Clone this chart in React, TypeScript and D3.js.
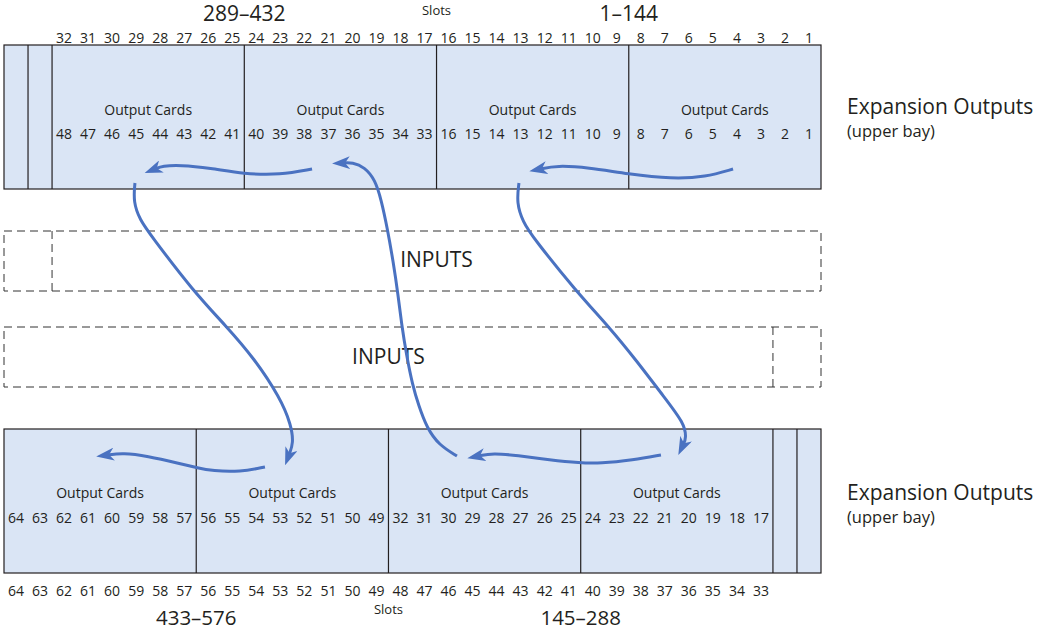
import React from 'react';
import * as d3 from 'd3';

// slot numbers printed above the upper bay and below the lower bay
const topSlots = [32, 31, 30, 29, 28, 27, 26, 25, 24, 23, 22, 21, 20, 19, 18, 17, 16, 15, 14, 13, 12, 11, 10, 9, 8, 7, 6, 5, 4, 3, 2, 1];
const bottomSlots = [64, 63, 62, 61, 60, 59, 58, 57, 56, 55, 54, 53, 52, 51, 50, 49, 48, 47, 46, 45, 44, 43, 42, 41, 40, 39, 38, 37, 36, 35, 34, 33];

// output card numbers, one list per card group
const topCards = [
  [48, 47, 46, 45, 44, 43, 42, 41],
  [40, 39, 38, 37, 36, 35, 34, 33],
  [16, 15, 14, 13, 12, 11, 10, 9],
  [8, 7, 6, 5, 4, 3, 2, 1],
];
const bottomCards = [
  [64, 63, 62, 61, 60, 59, 58, 57],
  [56, 55, 54, 53, 52, 51, 50, 49],
  [32, 31, 30, 29, 28, 27, 26, 25],
  [24, 23, 22, 21, 20, 19, 18, 17],
];

const topRanges = ['289–432', '1–144'];
const bottomRanges = ['433–576', '145–288'];

// arrow paths, [slot position, y]
const arrows: [number, number][][] = [
  [[30.34, 169], [29.2, 177], [27.8, 179], [25.97, 174], [24.3, 167.5], [23.0, 165.5], [22.31, 169]],
  [[12.82, 169], [11.49, 175], [9.99, 174], [8.57, 168], [7.32, 165], [6.6, 166], [6.28, 169]],
  [[18.85, 456], [18.1, 445], [17.6, 428], [17.25, 405], [17.0, 385], [16.75, 355], [16.55, 325], [16.4, 295], [16.2, 262], [15.95, 228], [15.7, 200], [15.45, 180], [15.0, 167], [14.5, 162.5], [14.11, 163]],
  [[5.45, 183], [5.38, 202], [5.66, 220], [6.1, 235], [7.87, 291], [9.28, 327], [10.4, 358], [11.5, 398], [11.95, 425], [12.05, 443], [11.86, 455]],
  [[21.43, 183], [21.33, 203], [21.6, 222], [22.0, 237], [23.8, 291], [25.22, 328], [26.3, 360], [27.5, 398], [28.3, 423], [28.4, 438], [28.26, 445]],
  [[27.34, 455], [26.18, 460], [24.8, 463.5], [23.97, 463], [22.72, 460], [21.35, 455.5], [20.35, 453], [19.73, 456]],
  [[10.86, 467], [9.82, 472], [8.7, 471], [7.99, 467.5], [7.32, 463.5], [5.95, 456], [4.95, 453], [4.29, 455]],
];

const W = 1039;
const H = 631;
const FONT = '"Open Sans", sans-serif';
const BLUE = '#4a72c1';
const FILL = '#dae5f5';
const INK = '#231f20';

const x = d3.scaleLinear().domain([0, 34]).range([4, 821]);

const line = d3
  .line<[number, number]>()
  .x(d => x(d[0]))
  .y(d => d[1])
  .curve(d3.curveBasis);

const topY = [45, 189];
const botY = [429, 573];
const in1 = [231, 291];
const in2 = [327, 387];

export default function App() {
  const topStart = 2; // two narrow slots on the left
  const botStart = 0; // two narrow slots on the right

  return (
    <svg width={W} height={H} style={{ position: 'absolute', left: 0, top: 0, background: '#fff' }} fontFamily={FONT}>
      <defs>
        <marker id="head" viewBox="0 0 18 13" markerWidth={18} markerHeight={13} refX={7} refY={6.5}
          orient="auto" markerUnits="userSpaceOnUse">
          <path d="M0,0 L18,6.5 L0,13 L5,6.5 Z" fill={BLUE} />
        </marker>
      </defs>

      {/* titles */}
      <text x={x(topStart + 8)} y={21} textAnchor="middle" fontSize={21} fill={INK}>{topRanges[0]}</text>
      <text x={x(topStart + 24)} y={21} textAnchor="middle" fontSize={21} fill={INK}>{topRanges[1]}</text>
      <text x={x(topStart + 16)} y={15} textAnchor="middle" fontSize={13} fill={INK}>Slots</text>

      {topSlots.map((s, i) => (
        <text key={'ts' + s} x={x(topStart + i + 0.5)} y={43} textAnchor="middle" fontSize={14} fill={INK}>{s}</text>
      ))}

      {/* upper bay */}
      <rect x={x(0)} y={topY[0]} width={x(34) - x(0)} height={topY[1] - topY[0]} fill={FILL} stroke={INK} strokeWidth={1.2} />
      {[1, 2, 10, 18, 26].map(s => (
        <line key={'td' + s} x1={x(s)} x2={x(s)} y1={topY[0]} y2={topY[1]} stroke={INK} strokeWidth={1.2} />
      ))}
      {topCards.map((grp, g) => (
        <g key={'tg' + g}>
          <text x={x(topStart + g * 8 + 4)} y={115} textAnchor="middle" fontSize={14} fill={INK}>Output Cards</text>
          {grp.map((c, i) => (
            <text key={c} x={x(topStart + g * 8 + i + 0.5)} y={139} textAnchor="middle" fontSize={14} fill={INK}>{c}</text>
          ))}
        </g>
      ))}
      <text x={847} y={114} fontSize={21} fill={INK}>Expansion Outputs</text>
      <text x={847} y={137} fontSize={16.5} fill={INK}>(upper bay)</text>

      {/* inputs */}
      <g fill="none" stroke="#333" strokeWidth={1} strokeDasharray="8,5">
        <rect x={x(0)} y={in1[0]} width={x(34) - x(0)} height={in1[1] - in1[0]} />
        <line x1={x(2)} x2={x(2)} y1={in1[0]} y2={in1[1]} />
        <rect x={x(0)} y={in2[0]} width={x(34) - x(0)} height={in2[1] - in2[0]} />
        <line x1={x(32)} x2={x(32)} y1={in2[0]} y2={in2[1]} />
      </g>
      <text x={x(18)} y={267} textAnchor="middle" fontSize={21} fill={INK}>INPUTS</text>
      <text x={x(16)} y={364} textAnchor="middle" fontSize={21} fill={INK}>INPUTS</text>

      {/* lower bay */}
      <rect x={x(0)} y={botY[0]} width={x(34) - x(0)} height={botY[1] - botY[0]} fill={FILL} stroke={INK} strokeWidth={1.2} />
      {[8, 16, 24, 32, 33].map(s => (
        <line key={'bd' + s} x1={x(s)} x2={x(s)} y1={botY[0]} y2={botY[1]} stroke={INK} strokeWidth={1.2} />
      ))}
      {bottomCards.map((grp, g) => (
        <g key={'bg' + g}>
          <text x={x(botStart + g * 8 + 4)} y={498} textAnchor="middle" fontSize={14} fill={INK}>Output Cards</text>
          {grp.map((c, i) => (
            <text key={c} x={x(botStart + g * 8 + i + 0.5)} y={523} textAnchor="middle" fontSize={14} fill={INK}>{c}</text>
          ))}
        </g>
      ))}
      <text x={847} y={500} fontSize={21} fill={INK}>Expansion Outputs</text>
      <text x={847} y={523} fontSize={16.5} fill={INK}>(upper bay)</text>

      {bottomSlots.map((s, i) => (
        <text key={'bs' + s} x={x(botStart + i + 0.5)} y={596} textAnchor="middle" fontSize={14} fill={INK}>{s}</text>
      ))}
      <text x={x(16)} y={614} textAnchor="middle" fontSize={13} fill={INK}>Slots</text>
      <text x={x(8)} y={625} textAnchor="middle" fontSize={20.5} fill={INK}>{bottomRanges[0]}</text>
      <text x={x(24)} y={625} textAnchor="middle" fontSize={20.5} fill={INK}>{bottomRanges[1]}</text>

      {/* arrows */}
      {arrows.map((a, i) => (
        <path key={'a' + i} d={line(a) || ''} fill="none" stroke={BLUE} strokeWidth={3} strokeLinecap="butt" markerEnd="url(#head)" />
      ))}
    </svg>
  );
}
